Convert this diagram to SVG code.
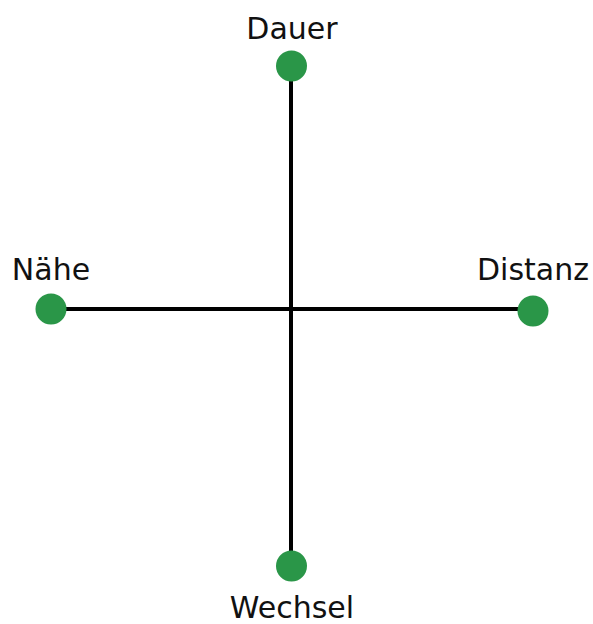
<svg xmlns="http://www.w3.org/2000/svg" width="593" height="624" viewBox="0 0 593 624">
<style>
.dot{fill:#2a9648;}
.lbl{font-family:"DejaVu Sans",sans-serif;font-size:30px;fill:#111;text-anchor:middle;}
.ax{stroke:#000;stroke-width:4;fill:none;}
</style>
<rect width="593" height="624" fill="#fff"/>
<g id="connectors">
<line class="ax" x1="291" y1="66" x2="291" y2="566"/>
<line class="ax" x1="51" y1="309" x2="533" y2="309"/>
</g>
<g id="dauer"><ellipse class="dot" cx="291.5" cy="66" rx="15.5" ry="15.5"/><text class="lbl" x="292" y="39">Dauer</text></g>
<g id="naehe"><ellipse class="dot" cx="51" cy="309" rx="15.5" ry="15.5"/><text class="lbl" x="51" y="280">Nähe</text></g>
<g id="distanz"><ellipse class="dot" cx="533" cy="311" rx="15.5" ry="15.5"/><text class="lbl" x="533" y="280">Distanz</text></g>
<g id="wechsel"><ellipse class="dot" cx="291.5" cy="566" rx="15.5" ry="15.5"/><text class="lbl" x="292" y="618">Wechsel</text></g>
</svg>
